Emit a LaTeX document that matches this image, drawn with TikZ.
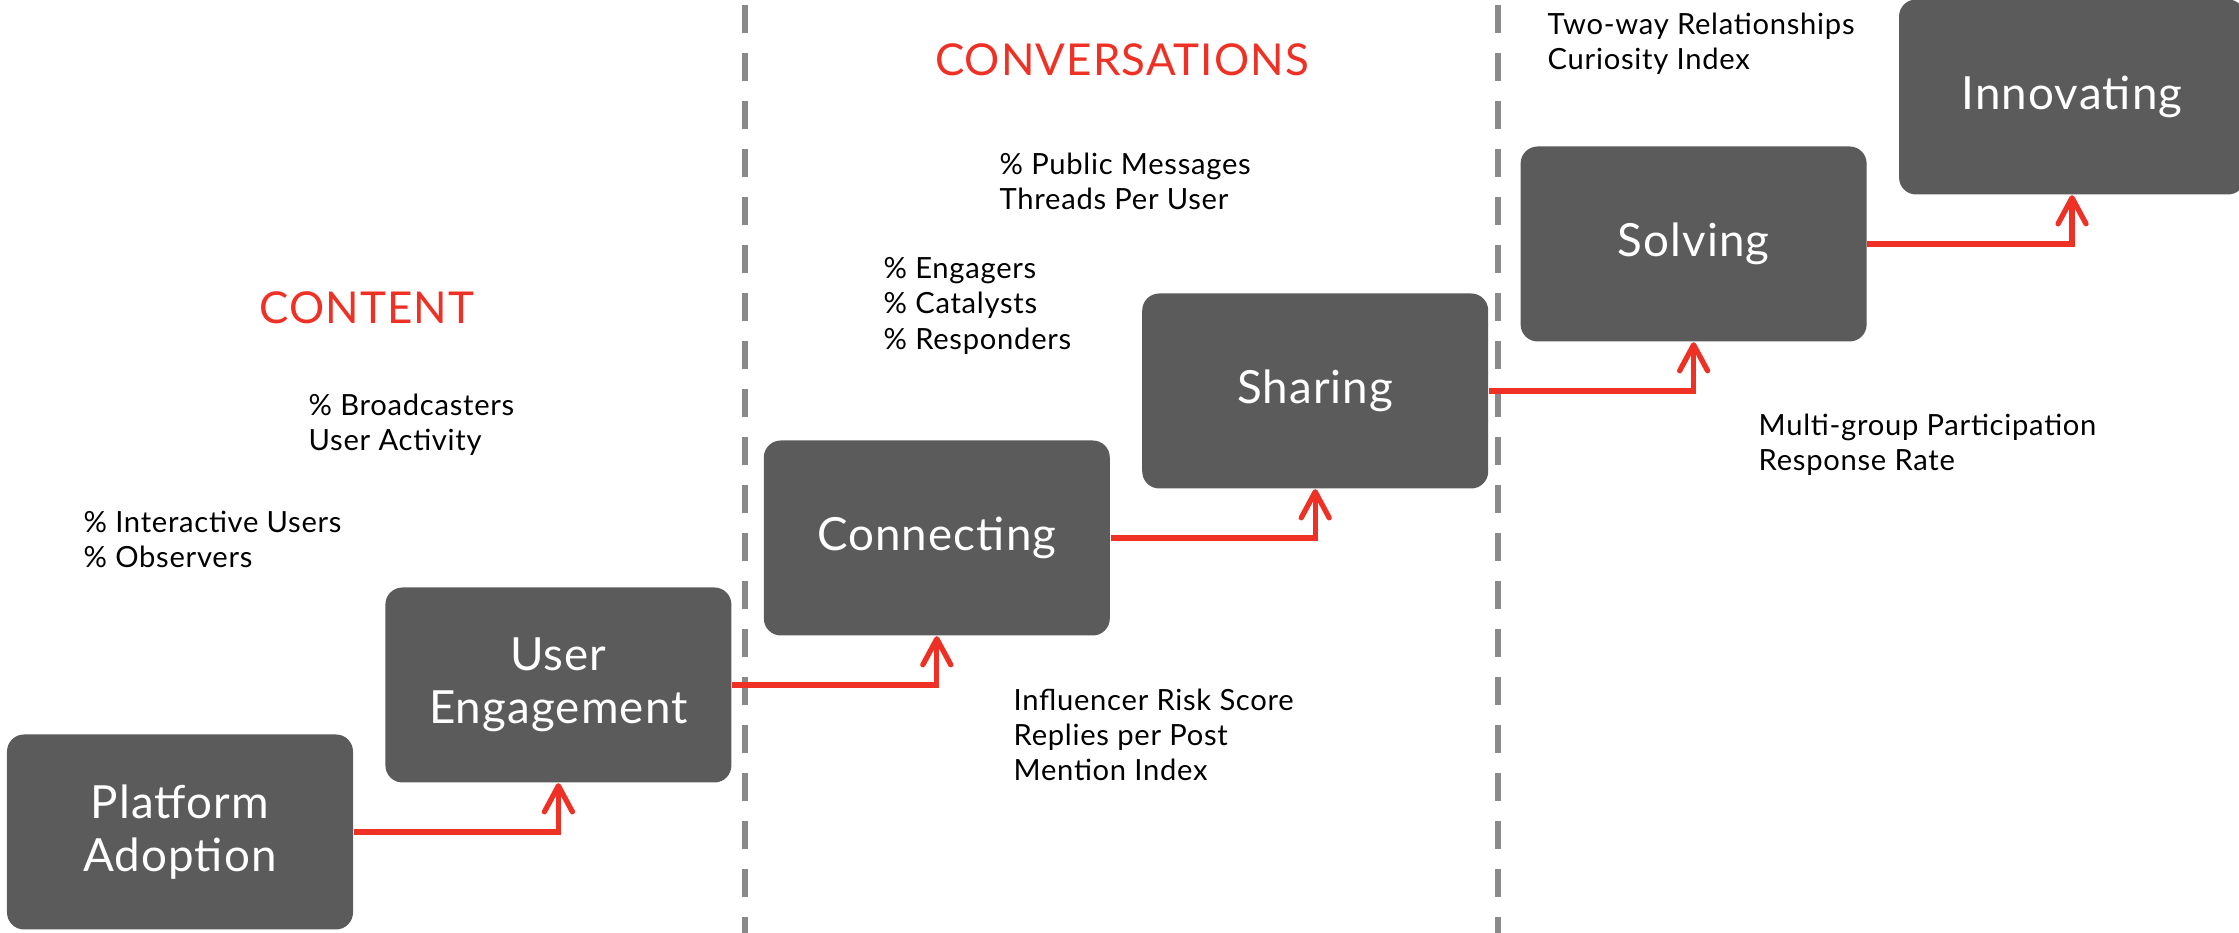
\documentclass[tikz,border=0pt]{standalone}
\usepackage{fontspec}
\setmainfont{Lato}[LetterSpace=2.5]
\usetikzlibrary{positioning,arrows.meta}
\definecolor{stagegray}{HTML}{5B5B5B}
\definecolor{flowred}{HTML}{EE3124}
\definecolor{dashgray}{HTML}{8A8A8A}

\begin{document}
\begin{tikzpicture}[node distance = {3.1mm},
  main/.style = {fill = stagegray, rounded corners = 1.7mm, minimum width = 3.46cm, minimum height = 1.95cm, inner sep = 0, text = white, align = center, font = \fontsize{13}{15}\selectfont},
  flow/.style = {draw = flowred, line width = 1.5pt, -{Straight Barb[length = 2.6mm, width = 2.8mm, round]}},
  divider/.style = {draw = dashgray, line width = 1.7pt, dash pattern = on 2.8mm off 2mm},
  phase/.style = {text = flowred, inner sep = 0, font = \fontsize{12.5}{15}\selectfont},
  metric/.style = {anchor = north west, align = left, inner sep = 0, font = \fontsize{8.3}{10}\selectfont}]
                  \useasboundingbox (0,0) rectangle (22.39,9.33);
                  % section borders
                  \draw[divider] (7.45,9.28) -- (7.45,0);
                  \draw[divider] (14.98,9.28) -- (14.98,0);
                  % the six stages
                  \node[main](1) at (1.80,1.01) {Platform\\Adoption};
                  \node[main, right = of 1, yshift = 1.47cm](2) {User\\Engagement};
                  \node[main, right = of 2, yshift = 1.47cm](3) {Connecting};
                  \node[main, right = of 3, yshift = 1.47cm](4) {Sharing};
                  \node[main, right = of 4, yshift = 1.47cm](5) {Solving};
                  \node[main, right = of 5, yshift = 1.47cm](6) {Innovating};
                  \draw[flow] (1.east) -| (2.south);
                  \draw[flow] (2.east) -| (3.south);
                  \draw[flow] (3.east) -| (4.south);
                  \draw[flow] (4.east) -| (5.south);
                  \draw[flow] (5.east) -| (6.south);
                  % headings
                  \node[phase](content) at (3.67,6.25) {CONTENT};
                  \node[phase](conv) at (11.22,8.73) {CONVERSATIONS};
                  % metrics
                  \node[metric](m1) at (0.83,4.23) {\% Interactive Users\\\% Observers};
                  \node[metric](m2) at (3.08,5.40) {\% Broadcasters\\User Activity};
                  \node[metric](m3) at (8.83,6.76) {\% Engagers\\\% Catalysts\\\% Responders};
                  \node[metric](m4) at (9.99,7.81) {\% Public Messages\\Threads Per User};
                  \node[metric](m5) at (10.13,2.45) {Influencer Risk Score\\Replies per Post\\Mention Index};
                  \node[metric](m6) at (15.47,9.21) {Two-way Relationships\\Curiosity Index};
                  \node[metric](m7) at (17.58,5.20) {Multi-group Participation\\Response Rate};

          \end{tikzpicture}
\end{document}
